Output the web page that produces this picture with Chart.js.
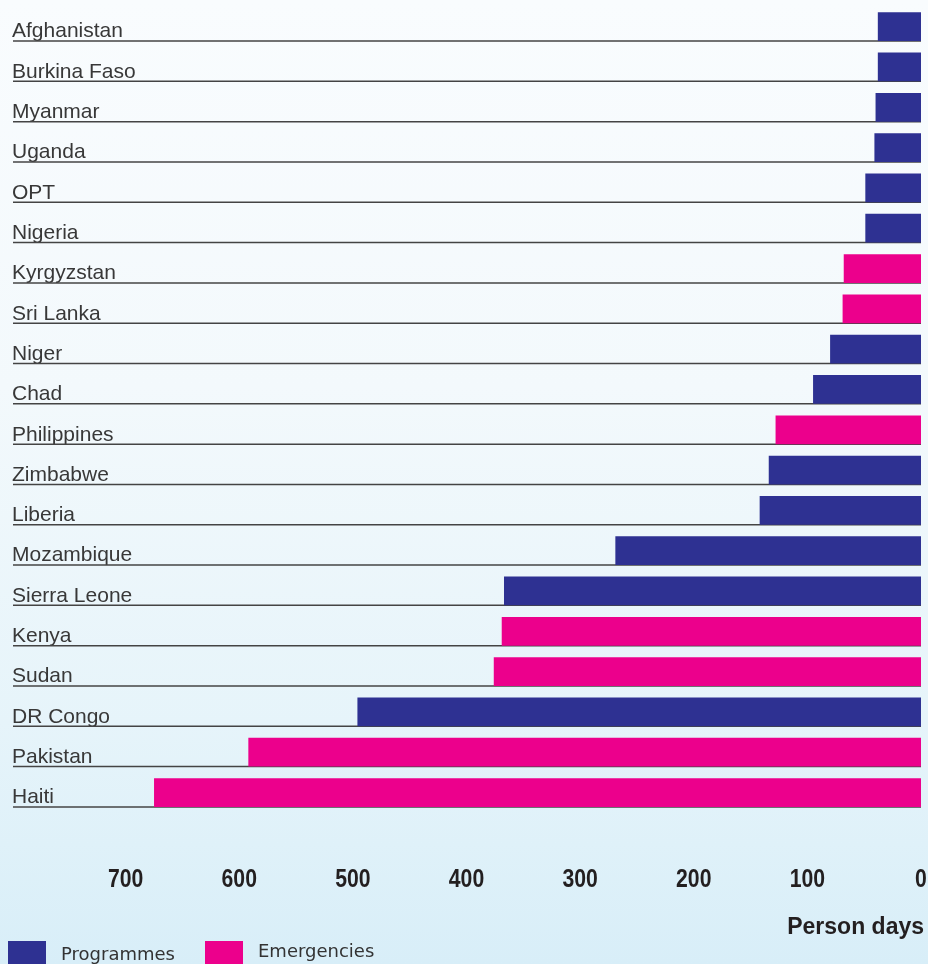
<!DOCTYPE html>
<html>
<head>
<meta charset="utf-8">
<script src="https://cdn.jsdelivr.net/npm/chart.js@4.4.1/dist/chart.umd.min.js"></script>
<style>
  html, body {
    margin: 0;
    padding: 0;
    width: 928px;
    height: 964px;
    overflow: hidden;
    background: linear-gradient(180deg, #f9fcfe 0%, #f3f9fc 40%, #e6f4fa 75%, #d8eef8 100%);
  }
  canvas { display: block; }
</style>
</head>
<body>
<canvas id="staffChart" width="928" height="964"></canvas>
<script>
// Person days per country
const countries = ['Afghanistan', 'Burkina Faso', 'Myanmar', 'Uganda', 'OPT', 'Nigeria',
    'Kyrgyzstan', 'Sri Lanka', 'Niger', 'Chad', 'Philippines', 'Zimbabwe', 'Liberia',
    'Mozambique', 'Sierra Leone', 'Kenya', 'Sudan', 'DR Congo', 'Pakistan', 'Haiti'];
const programmes = [38, 38, 40, 41, 49, 49, null, null, 80, 95, null, 134, 142,
    269, 367, null, null, 496, null, null];
const emergencies = [null, null, null, null, null, null, 68, 69, null, null, 128, null, null,
    null, null, 369, 376, null, 592, 675];
const xTicks = [0, 100, 200, 300, 400, 500, 600, 700];

const BLUE = '#2e3192';
const PINK = '#ec008c';
const BAR_PCT = 0.713;
const LABEL_FONT = '"Liberation Sans", Arial, sans-serif';

// underline under every country, drawn before the bars so they sit on it
const underlinePlugin = {
    id: 'underlines',
    beforeDatasetsDraw(chart) {
        const ctx = chart.ctx;
        const yScale = chart.scales.y;
        const area = chart.chartArea;
        const step = yScale.getPixelForTick(1) - yScale.getPixelForTick(0);
        ctx.save();
        ctx.strokeStyle = '#444';
        ctx.lineWidth = 1.5;
        countries.forEach((c, i) => {
            const y = yScale.getPixelForTick(i) + step * BAR_PCT / 2;
            ctx.beginPath();
            ctx.moveTo(13, y);
            ctx.lineTo(area.right, y);
            ctx.stroke();
        });
        ctx.restore();
    }
};

// x tick labels (condensed bold), axis title and legend
const extrasPlugin = {
    id: 'extras',
    afterDraw(chart) {
        const ctx = chart.ctx;
        const xScale = chart.scales.x;
        ctx.save();
        ctx.fillStyle = '#231f20';
        ctx.font = 'bold 26px ' + LABEL_FONT;
        ctx.textAlign = 'center';
        ctx.textBaseline = 'alphabetic';
        xTicks.forEach(v => {
            const x = Math.min(xScale.getPixelForValue(v), 924);
            ctx.save();
            ctx.translate(x, 887);
            ctx.scale(0.815, 1);
            ctx.fillText(String(v), 0, 0);
            ctx.restore();
        });

        ctx.font = 'bold 23px ' + LABEL_FONT;
        ctx.textAlign = 'right';
        ctx.fillText('Person days', 924, 934);

        ctx.fillStyle = BLUE;
        ctx.fillRect(8, 941, 38, 30);
        ctx.fillStyle = PINK;
        ctx.fillRect(205, 941, 38, 30);
        ctx.fillStyle = '#333';
        ctx.font = '18px "DejaVu Sans", sans-serif';
        ctx.textAlign = 'left';
        ctx.fillText('Programmes', 61, 960);
        ctx.fillText('Emergencies', 258, 957);
        ctx.restore();
    }
};

new Chart(document.getElementById('staffChart'), {
    type: 'bar',
    data: {
        labels: countries,
        datasets: [
            {
                label: 'Programmes',
                data: programmes,
                backgroundColor: BLUE,
                barPercentage: BAR_PCT,
                categoryPercentage: 1
            },
            {
                label: 'Emergencies',
                data: emergencies,
                backgroundColor: PINK,
                barPercentage: BAR_PCT,
                categoryPercentage: 1
            }
        ]
    },
    plugins: [underlinePlugin, extrasPlugin],
    options: {
        indexAxis: 'y',
        responsive: false,
        animation: false,
        devicePixelRatio: 1,
        layout: {
            padding: { left: 12, right: 7, top: 6.5, bottom: 0 }
        },
        plugins: {
            legend: { display: false },
            tooltip: { enabled: false }
        },
        scales: {
            x: {
                reverse: true,
                min: 0,
                max: 800,
                stacked: true,
                grid: { display: false },
                border: { display: false },
                ticks: { display: false, stepSize: 100 },
                afterFit(axis) {
                    axis.height = 151.3;
                }
            },
            y: {
                stacked: true,
                grid: { display: false },
                border: { display: false },
                afterFit(axis) {
                    axis.width = 0;
                },
                ticks: {
                    mirror: true,
                    padding: 0,
                    labelOffset: 5,
                    color: '#383838',
                    font: { family: LABEL_FONT, size: 21, lineHeight: 0.6 }
                }
            }
        }
    }
});
</script>
</body>
</html>
